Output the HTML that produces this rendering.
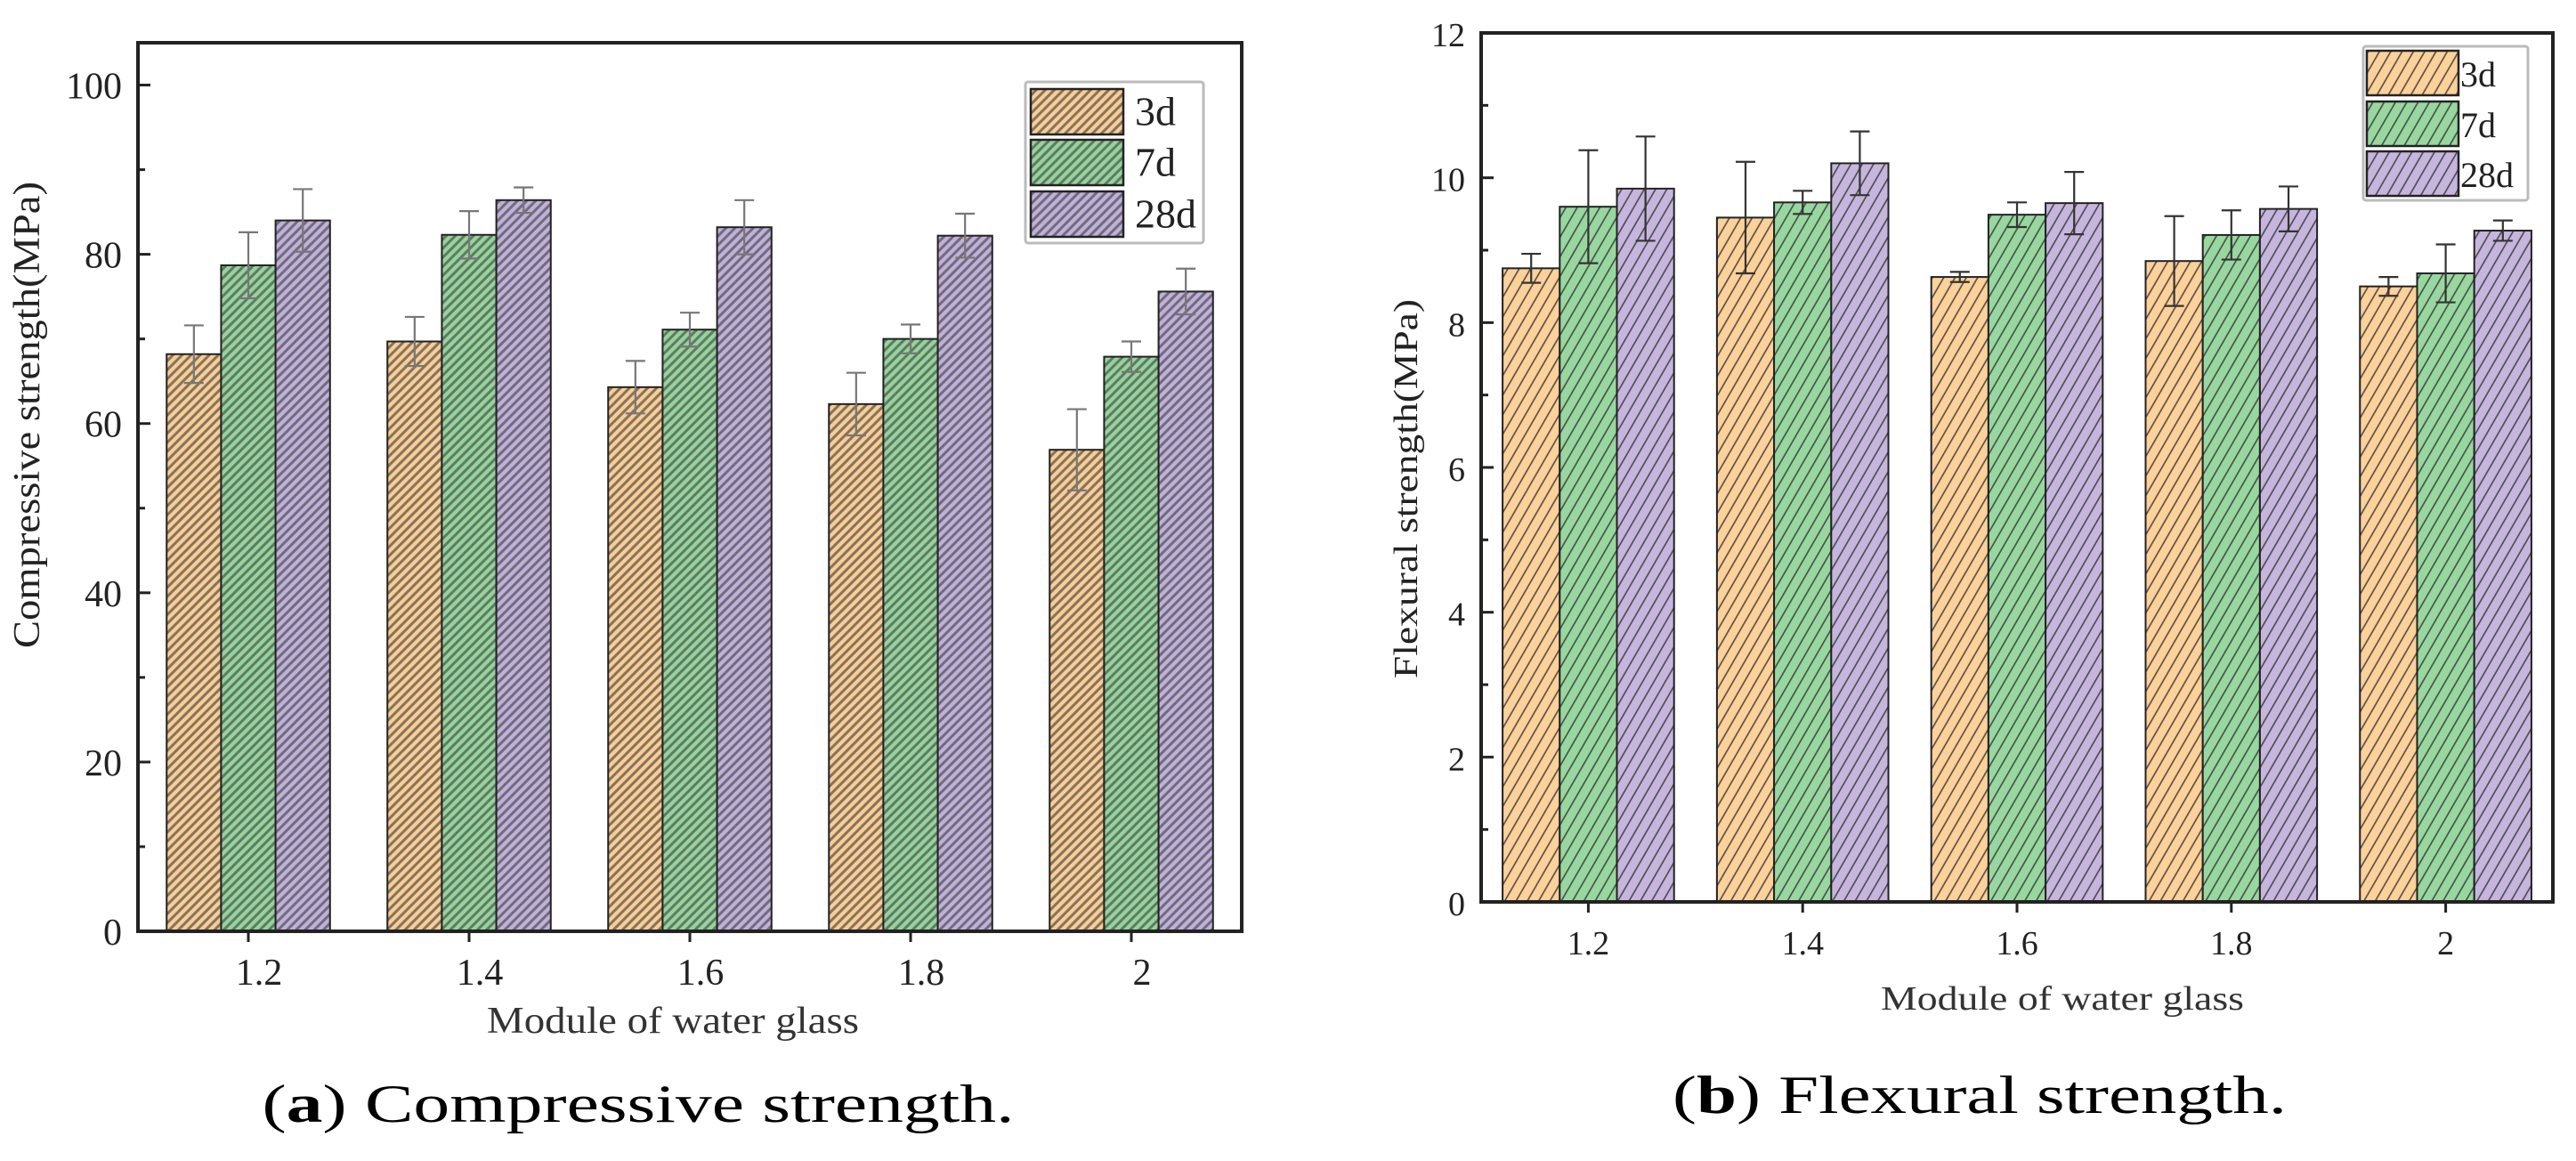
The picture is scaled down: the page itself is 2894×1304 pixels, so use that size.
<!DOCTYPE html>
<html><head><meta charset="utf-8"><style>
html,body{margin:0;padding:0;background:#fff;}
svg{display:block;font-family:"Liberation Serif",serif;}
</style></head><body>
<svg id="fig" width="2894" height="1304" viewBox="0 0 2894 1304" xmlns="http://www.w3.org/2000/svg">
<defs>
<pattern id="hA" patternUnits="userSpaceOnUse" width="7.2" height="20" patternTransform="rotate(45)"><rect width="7.2" height="20" fill="none"/><line x1="1.8" y1="0" x2="1.8" y2="20" stroke="#555" stroke-width="3" stroke-opacity="0.75"/></pattern>
<pattern id="hB" patternUnits="userSpaceOnUse" width="11" height="20" patternTransform="rotate(30)"><line x1="1" y1="0" x2="1" y2="20" stroke="#333" stroke-width="1.6" stroke-opacity="0.85"/></pattern>
</defs>
<g id="chartA"></g>
<g id="chartB"></g>
<text x="717" y="1260" text-anchor="middle" font-size="60" textLength="845" lengthAdjust="spacingAndGlyphs">(<tspan font-weight="bold">a</tspan>) Compressive strength.</text>
<text x="2224" y="1250" text-anchor="middle" font-size="60" textLength="690" lengthAdjust="spacingAndGlyphs">(<tspan font-weight="bold">b</tspan>) Flexural strength.</text>
</svg>
<script>
const categories = ["1.2","1.4","1.6","1.8","2"];
const seriesNames = ["3d","7d","28d"];
const compValues3d = [68.2,69.7,64.3,62.3,56.9];
const compValues7d = [78.7,82.3,71.1,70.0,67.9];
const compValues28d = [84.0,86.4,83.2,82.2,75.6];
const compErr3d = [3.4,2.9,3.1,3.7,4.8];
const compErr7d = [3.9,2.8,2.0,1.7,1.8];
const compErr28d = [3.7,1.5,3.2,2.6,2.7];
const compTicks = [0,20,40,60,80,100];
const flexValues3d = [8.75,9.45,8.63,8.85,8.50];
const flexValues7d = [9.60,9.66,9.49,9.21,8.68];
const flexValues28d = [9.85,10.20,9.65,9.57,9.27];
const flexErr3d = [0.20,0.77,0.07,0.62,0.13];
const flexErr7d = [0.78,0.16,0.17,0.34,0.40];
const flexErr28d = [0.72,0.44,0.43,0.31,0.14];
const flexTicks = [0,2,4,6,8,10,12];

const NS="http://www.w3.org/2000/svg";
function mk(parent,tag,attrs,text){const e=document.createElementNS(NS,tag);for(const k in attrs)e.setAttribute(k,attrs[k]);if(text!==undefined)e.textContent=text;parent.appendChild(e);return e;}

function drawChart(g,cfg){
  const {L,R,T,B,ymax,ticks,minorStep,vals,errs,colors,hatch,barFrac,errColor,legend,fs,ylab,xlab}=cfg;
  const y=v=>B-(v/ymax)*(B-T);
  const bandW=(R-L)/categories.length;
  const x=i=>L+bandW*(i+0.5);
  const bw=bandW*barFrac/3;
  // bars
  for(let s=0;s<3;s++){
    for(let i=0;i<categories.length;i++){
      const v=vals[s][i], e=errs[s][i];
      const bx=x(i)-1.5*bw+s*bw;
      const r=mk(g,'rect',{x:bx,y:y(v),width:bw,height:B-y(v),fill:colors[s]});
      
      
      const h=mk(g,'rect',{x:bx,y:y(v),width:bw,height:B-y(v),fill:'url(#'+hatch+')',stroke:'#222','stroke-width':2});
      
      
      const cx=bx+bw/2, cw=11;
      const eg=mk(g,'path',{d:`M${cx},${y(v+e)}V${y(v-e)}M${cx-cw},${y(v+e)}H${cx+cw}M${cx-cw},${y(v-e)}H${cx+cw}`,stroke:errColor,'stroke-width':2.2,fill:'none'});
      
      
    }
  }
  // frame
  const fr=mk(g,'rect',{x:L,y:T,width:R-L,height:B-T,fill:'none',stroke:'#222','stroke-width':4});
  
  
  // y ticks
  for(let v=0;v<=ymax+1e-9;v+=minorStep){
    const t=mk(g,'line',{x1:L,x2:L+(ticks.includes(Math.round(v*100)/100)?14:8),y1:y(v),y2:y(v),stroke:'#222','stroke-width':3});
    
    
  }
  ticks.forEach(v=>{
    const t=mk(g,'text',{x:L-18,y:y(v)+15,'text-anchor':'end','font-size':fs,fill:'#222'},String(v));
    
    
  });
  categories.forEach((c,i)=>{
    const t=mk(g,'line',{x1:x(i),x2:x(i),y1:B,y2:B+12,stroke:'#222','stroke-width':3});
    
    
    const l=mk(g,'text',{x:x(i)+cfg.xlabOff,y:cfg.xtickY,'text-anchor':'middle','font-size':fs,fill:'#222'},c);
    
    
  });
  const yl=mk(g,'text',{x:0,y:0,'text-anchor':'middle','font-size':fs,fill:'#222',transform:`translate(${ylab.x},${ylab.y}) rotate(-90)`,textLength:ylab.len,lengthAdjust:'spacingAndGlyphs'},ylab.t);
  
  
  const xl=mk(g,'text',{x:xlab.x,y:xlab.y,'text-anchor':'middle','font-size':fs,fill:'#333',textLength:xlab.len,lengthAdjust:'spacingAndGlyphs'},xlab.t);
  
  
  // legend
  const lg=mk(g,'g',{});
  
  
  if(legend.box){mk(lg,'rect',{x:legend.box[0],y:legend.box[1],width:legend.box[2],height:legend.box[3],fill:'#fff',stroke:'#bbb','stroke-width':3,rx:3});}
  for(let s=0;s<3;s++){
    const ry=legend.rows[s];
    const e=mk(lg,'g',{});
    
    
    mk(e,'rect',{x:legend.sx,y:ry,width:legend.sw,height:legend.sh,fill:colors[s]});
    mk(e,'rect',{x:legend.sx,y:ry,width:legend.sw,height:legend.sh,fill:'url(#'+hatch+')',stroke:'#222','stroke-width':2.5});
    mk(e,'text',{x:legend.tx,y:ry+legend.sh/2+15,'font-size':legend.fs,fill:'#222'},seriesNames[s]);
  }
}

drawChart(document.getElementById('chartA'),{
  L:155,R:1395,T:48,B:1046,ymax:105,ticks:compTicks,minorStep:10,
  vals:[compValues3d,compValues7d,compValues28d],errs:[compErr3d,compErr7d,compErr28d],
  colors:['#fbcd90','#92d69a','#c0b0dc'],hatch:'hA',barFrac:0.74,errColor:'#777',fs:42,
  xtickY:1106,xlabOff:12,
  ylab:{x:44,y:466,t:'Compressive strength(MPa)',len:524},
  xlab:{x:756,y:1160,t:'Module of water glass',len:418},
  legend:{box:[1152,92,200,181],sx:1158,sw:104,sh:51,rows:[100,157,215],tx:1275,fs:46}
});
drawChart(document.getElementById('chartB'),{
  L:1664,R:2868,T:37,B:1013,ymax:12,ticks:flexTicks,minorStep:1,
  vals:[flexValues3d,flexValues7d,flexValues28d],errs:[flexErr3d,flexErr7d,flexErr28d],
  colors:['#fcd19a','#98d8a0','#c6b6de'],hatch:'hB',barFrac:0.8,errColor:'#333',fs:38,
  xtickY:1072,xlabOff:0,
  ylab:{x:1592,y:549,t:'Flexural strength(MPa)',len:426},
  xlab:{x:2317,y:1134,t:'Module of water glass',len:408},
  legend:{box:[2655,52,185,173],sx:2659,sw:103,sh:50,rows:[57,114,170],tx:2764,fs:40}
});
</script>
</body></html>
